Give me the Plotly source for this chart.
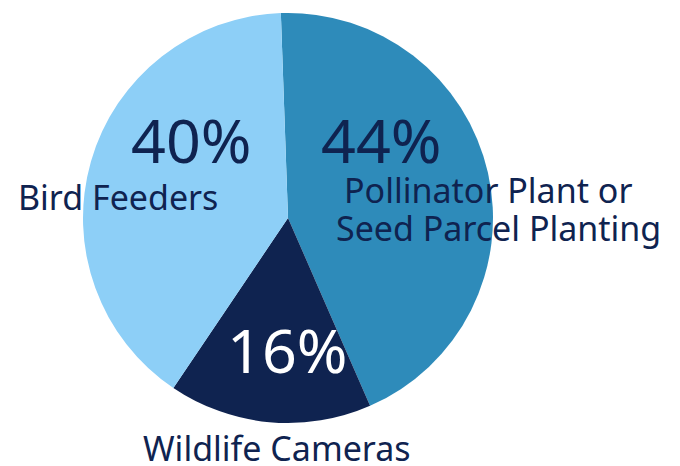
import plotly.graph_objects as go

W, H = 680, 466
OFF = 8  # page body margin

labels = ["Pollinator Plant or<br>Seed Parcel Planting", "Wildlife Cameras", "Bird Feeders"]
values = [44, 16, 40]
colours = ["#2E8BBA", "#0F2350", "#8DCFF7"]
pct_colours = ["#0F2350", "#FFFFFF", "#0F2350"]

# percent positions in screen pixels (x, y from top)
pct_pos = [(381, 139), (287, 349), (191, 139)]
# one (x, y, anchor) per label line
label_pos = [
    [(488, 190, "center"), (498, 228, "center")],
    [(277, 448, "center")],
    [(16, 197, "left")],
]


def px(x, y):
    return (x - OFF) / W, 1 - (y - OFF) / H


fig = go.Figure()
fig.add_trace(go.Pie(
    labels=labels,
    values=values,
    sort=False,
    direction="clockwise",
    rotation=-2,
    marker=dict(colors=colours, line=dict(width=0)),
    textinfo="none",
    hoverinfo="label+percent",
    showlegend=False,
    domain=dict(x=[(83 - OFF) / W, (493 - OFF) / W],
                y=[1 - (423 - OFF) / H, 1 - (13 - OFF) / H]),
))

total = sum(values)
for v, (x, y), c in zip(values, pct_pos, pct_colours):
    ax, ay = px(x, y)
    fig.add_annotation(x=ax, y=ay, xref="paper", yref="paper", showarrow=False,
                       xanchor="center", yanchor="middle",
                       text=f"{round(v / total * 100)}%",
                       font=dict(family="Noto Sans", size=61, color=c))

for lab, positions in zip(labels, label_pos):
    for line, (x, y, anchor) in zip(lab.split("<br>"), positions):
        ax, ay = px(x, y)
        fig.add_annotation(x=ax, y=ay, xref="paper", yref="paper", showarrow=False,
                           text=line, xanchor=anchor, yanchor="middle",
                           font=dict(family="Noto Sans", size=34, color="#0F2350"))

fig.update_layout(
    width=W, height=H,
    margin=dict(l=0, r=0, t=0, b=0),
    paper_bgcolor="white",
    plot_bgcolor="white",
)

fig.write_html("out.html")
